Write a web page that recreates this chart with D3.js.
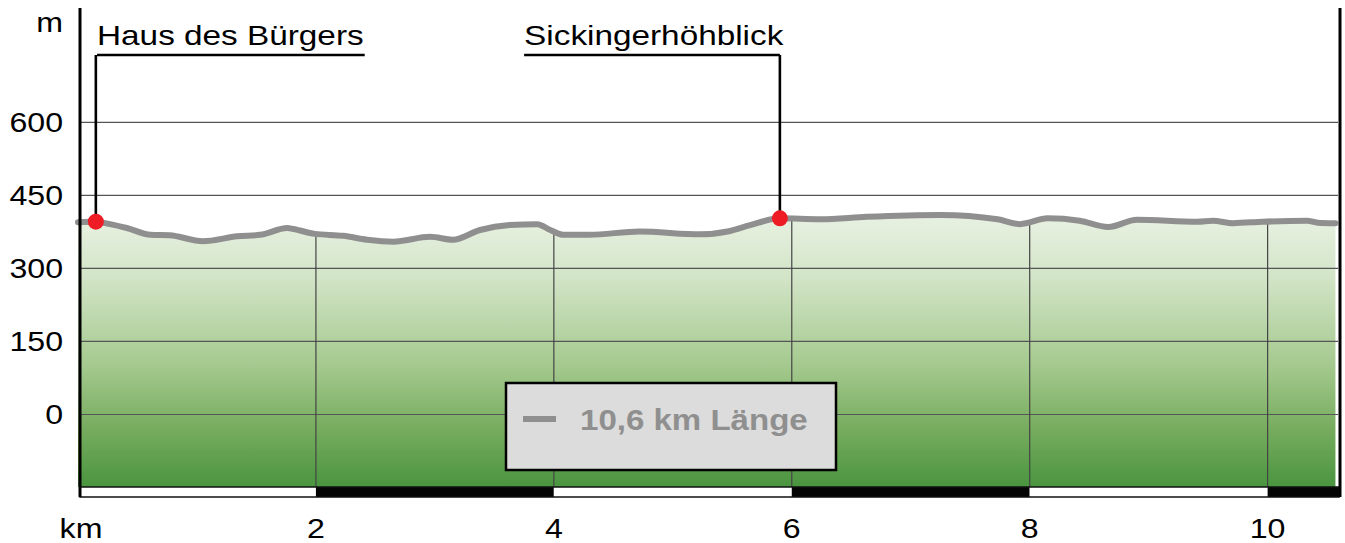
<!DOCTYPE html>
<html>
<head>
<meta charset="utf-8">
<script src="https://cdn.jsdelivr.net/npm/d3@7"></script>
<style>
  html, body { margin: 0; padding: 0; background: #ffffff; }
  svg { display: block; }
  text { font-family: "Liberation Sans", Arial, sans-serif; }
</style>
</head>
<body>
<svg id="chart" width="1345" height="543"></svg>
<script>
// ---- data ----
const profileKm = [0.00, 0.15, 0.27, 0.41, 0.61, 0.77, 1.05, 1.34, 1.53, 1.76, 1.81, 1.99, 2.23, 2.43, 2.65, 2.96, 3.15, 3.38, 3.63, 3.86, 3.97, 4.08, 4.30, 4.72, 5.23, 5.46, 5.65, 5.90, 6.24, 6.63, 7.25, 7.73, 7.92, 8.15, 8.42, 8.66, 8.90, 9.41, 9.54, 9.71, 9.96, 10.33, 10.42, 10.57];
const profileElev = [394, 395, 390, 382, 368, 367, 355, 365, 368, 382, 380, 370, 366, 358, 354, 364, 358, 378, 388, 390, 378, 368, 368, 375, 369, 375, 388, 402, 400, 405, 409, 400, 390, 402, 397, 384, 399, 395, 397, 392, 395, 397, 393, 392];
const poiNames = ["Haus des Bürgers", "Sickingerhöhblick"];
const poiKm = [0.15, 5.90];
const poiElev = [395, 402];
const poiLabelStart = [0.16, 3.75];   // km where label/leader begins
const poiLabelEnd = [2.41, 5.90];     // km where leader ends
const yTicks = [0, 150, 300, 450, 600];
const xTicks = [2, 4, 6, 8, 10];
const yUnit = "m";
const xUnit = "km";
const totalKm = 10.6;
const legendText = "10,6 km Länge";

// ---- layout ----
const svg = d3.select("#chart");
const x = d3.scaleLinear().domain([0, totalKm]).range([78, 1339]);
const y = d3.scaleLinear().domain([-150, 834]).range([487, 8]);
const plotLeft = 80, plotRight = 1338;
const SX = 1.19; // horizontal stretch of the lettering

function stretchedText(g, px, py, str, size, anchor, opts = {}) {
  return g.append("text")
    .attr("transform", `translate(${px},${py}) scale(${opts.sx || SX},1)`)
    .attr("text-anchor", anchor)
    .attr("font-size", size)
    .attr("font-weight", opts.weight || "normal")
    .attr("fill", opts.fill || "#000")
    .text(str);
}

// gradient
const defs = svg.append("defs");
const grad = defs.append("linearGradient")
  .attr("id", "greenGrad")
  .attr("gradientUnits", "userSpaceOnUse")
  .attr("x1", 0).attr("x2", 0)
  .attr("y1", y(470)).attr("y2", y(-150));
[[0, "#f3f7ef"], [0.3, "#d3e5c8"], [0.6, "#a4c98e"], [0.8, "#78ad60"], [1, "#4a953f"]]
  .forEach(([o, c]) => grad.append("stop").attr("offset", o).attr("stop-color", c));

const pts = profileKm.map((k, i) => [k, profileElev[i]]);

// area
svg.append("path")
  .datum(pts)
  .attr("fill", "url(#greenGrad)")
  .attr("d", d3.area().curve(d3.curveMonotoneX)
    .x(d => x(d[0])).y0(y(-150)).y1(d => y(d[1]))(pts));

// horizontal gridlines via axis
const yAxisG = svg.append("g")
  .attr("transform", `translate(${plotLeft},0)`)
  .call(d3.axisRight(y).tickValues(yTicks).tickSize(plotRight - plotLeft).tickFormat(""));
yAxisG.select(".domain").remove();
yAxisG.selectAll(".tick line").attr("stroke", "#555").attr("stroke-width", 1.2);

// vertical gridlines (below the profile)
const interp = d3.scaleLinear().domain(profileKm).range(profileElev);
svg.append("g").selectAll("line")
  .data(xTicks)
  .join("line")
  .attr("x1", d => x(d)).attr("x2", d => x(d))
  .attr("y1", d => y(interp(d)) + 2)
  .attr("y2", y(-150))
  .attr("stroke", "#444").attr("stroke-width", 1.2);

// profile line
svg.append("path")
  .datum(pts)
  .attr("fill", "none")
  .attr("stroke", "#8f8f8f")
  .attr("stroke-width", 6)
  .attr("stroke-linecap", "round")
  .attr("stroke-linejoin", "round")
  .attr("d", d3.line().curve(d3.curveMonotoneX).x(d => x(d[0])).y(d => y(d[1])));

// distance bar
const segs = d3.range(0, Math.ceil(totalKm / 2)).map(i => [i * 2, Math.min(totalKm, i * 2 + 2), i % 2]);
svg.append("g").selectAll("rect")
  .data(segs)
  .join("rect")
  .attr("x", d => Math.max(plotLeft, x(d[0])))
  .attr("width", d => x(d[1]) - Math.max(plotLeft, x(d[0])))
  .attr("y", 487).attr("height", 10)
  .attr("fill", d => d[2] ? "#050505" : "#ffffff");
svg.append("rect")
  .attr("x", plotLeft).attr("y", 487)
  .attr("width", x(totalKm) - plotLeft).attr("height", 10)
  .attr("fill", "none").attr("stroke", "#111").attr("stroke-width", 1.5);

// side axes lines
svg.append("line").attr("x1", plotLeft).attr("x2", plotLeft).attr("y1", 8).attr("y2", 497)
  .attr("stroke", "#000").attr("stroke-width", 3);
svg.append("line").attr("x1", 1340).attr("x2", 1340).attr("y1", 8).attr("y2", 497)
  .attr("stroke", "#000").attr("stroke-width", 3);

// y labels
const labG = svg.append("g");
yTicks.forEach(t => stretchedText(labG, 63, y(t) + 10, String(t), 27, "end"));
stretchedText(labG, 63, 32, yUnit, 27, "end");
// x labels
xTicks.forEach(t => stretchedText(labG, x(t), 538, String(t), 27, "middle"));
stretchedText(labG, 81, 538, xUnit, 27, "middle");

// POI leaders and markers
const poiG = svg.append("g");
const leaderY = 55;
poiNames.forEach((name, i) => {
  const px = x(poiKm[i]);
  const ls = x(poiLabelStart[i]), le = x(poiLabelEnd[i]);
  poiG.append("path")
    .attr("d", `M${ls},${leaderY}H${le}M${px},${leaderY}V${y(poiElev[i])}`)
    .attr("fill", "none").attr("stroke", "#000").attr("stroke-width", 2.6);
  poiG.append("circle")
    .attr("cx", px).attr("cy", y(poiElev[i])).attr("r", 8)
    .attr("fill", "#ee1c24");
  stretchedText(poiG, ls, 45, name, 28, "start");
});

// legend
const lg = svg.append("g");
lg.append("rect").attr("x", 506).attr("y", 383).attr("width", 330).attr("height", 87)
  .attr("fill", "#dcdcdc").attr("stroke", "#000").attr("stroke-width", 2.5);
lg.append("line").attr("x1", 523).attr("x2", 556).attr("y1", 419).attr("y2", 419)
  .attr("stroke", "#8f8f8f").attr("stroke-width", 6);
stretchedText(lg, 580, 430, legendText, 29, "start", { weight: "bold", fill: "#8f8f8f", sx: 1.14 });
</script>
</body>
</html>
